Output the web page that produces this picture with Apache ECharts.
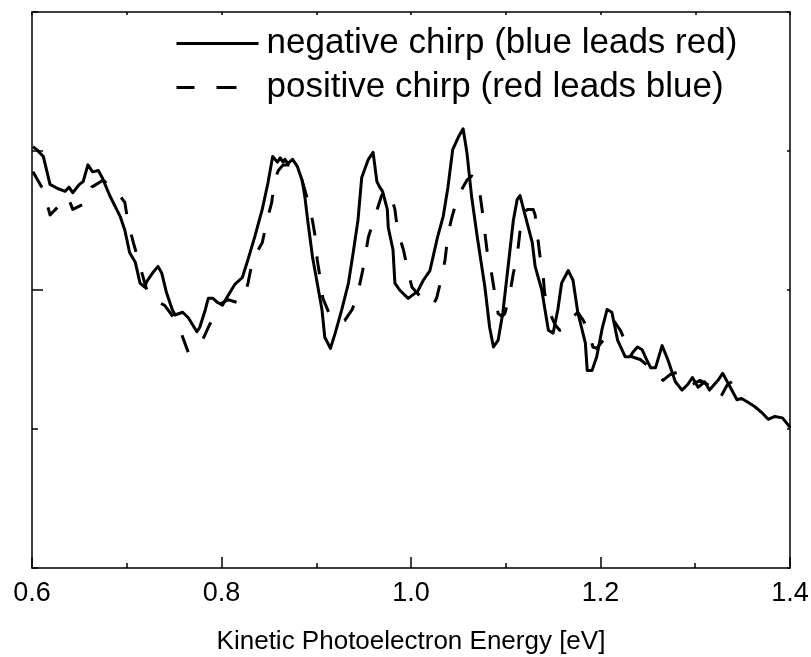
<!DOCTYPE html>
<html><head><meta charset="utf-8">
<script src="https://cdn.jsdelivr.net/npm/echarts@6/dist/echarts.min.js"></script>
<style>html,body{margin:0;padding:0;background:#fff}#c{width:811px;height:657px}</style>
</head><body><div id="c"></div><script>
const xTicks = [0.6, 0.8, 1.0, 1.2, 1.4];
const seriesNames = ['negative chirp (blue leads red)', 'positive chirp (red leads blue)'];
const axisTitle = 'Kinetic Photoelectron Energy [eV]';

const negX = [0.601,0.605,0.612,0.619,0.627,0.635,0.639,0.643,0.650,0.654,0.659,0.664,0.670,0.674,0.682,0.693,0.698,0.703,0.709,0.714,0.719,0.721,0.727,0.733,0.737,0.742,0.748,0.751,0.759,0.765,0.774,0.777,0.783,0.786,0.791,0.796,0.801,0.806,0.814,0.822,0.828,0.835,0.843,0.849,0.854,0.859,0.862,0.865,0.867,0.870,0.875,0.880,0.885,0.888,0.891,0.896,0.901,0.906,0.909,0.915,0.920,0.927,0.934,0.939,0.944,0.948,0.955,0.960,0.964,0.967,0.970,0.975,0.976,0.981,0.983,0.988,0.997,0.999,1.007,1.013,1.020,1.028,1.034,1.039,1.044,1.050,1.055,1.059,1.064,1.070,1.078,1.083,1.087,1.092,1.097,1.102,1.108,1.112,1.115,1.120,1.128,1.131,1.138,1.145,1.150,1.155,1.159,1.166,1.171,1.176,1.184,1.186,1.191,1.196,1.202,1.207,1.212,1.218,1.226,1.231,1.234,1.239,1.244,1.250,1.253,1.258,1.265,1.271,1.279,1.286,1.292,1.297,1.303,1.310,1.315,1.324,1.329,1.337,1.344,1.349,1.356,1.363,1.370,1.377,1.384,1.392,1.398,1.400];
const negY = [3.03,3.01,2.96,2.76,2.73,2.71,2.74,2.70,2.76,2.78,2.90,2.85,2.86,2.81,2.68,2.53,2.43,2.27,2.20,2.05,2.02,2.06,2.12,2.17,2.12,1.98,1.86,1.82,1.84,1.80,1.70,1.73,1.86,1.94,1.94,1.91,1.89,1.95,2.04,2.09,2.22,2.38,2.58,2.77,2.96,2.92,2.95,2.92,2.94,2.91,2.94,2.89,2.79,2.67,2.50,2.24,2.05,1.86,1.66,1.58,1.69,1.86,2.05,2.27,2.50,2.81,2.94,2.99,2.78,2.74,2.71,2.58,2.45,2.29,2.05,2.00,1.94,1.94,1.99,2.07,2.14,2.38,2.53,2.74,3.01,3.10,3.16,2.99,2.67,2.38,2.02,1.73,1.59,1.64,1.84,2.14,2.50,2.65,2.68,2.55,2.34,2.17,2.00,1.71,1.69,1.86,2.05,2.14,2.07,1.84,1.62,1.42,1.42,1.52,1.73,1.86,1.84,1.64,1.52,1.52,1.55,1.59,1.57,1.48,1.44,1.44,1.60,1.50,1.34,1.28,1.32,1.37,1.30,1.34,1.28,1.35,1.40,1.30,1.21,1.22,1.19,1.16,1.12,1.07,1.09,1.08,1.03,1.01];

const posX = [0.601,0.612,0.619,0.632,0.638,0.643,0.658,0.663,0.675,0.688,0.698,0.701,0.707,0.712,0.719,0.722,0.728,0.740,0.753,0.758,0.765,0.772,0.780,0.786,0.791,0.796,0.807,0.817,0.823,0.828,0.833,0.843,0.848,0.853,0.856,0.860,0.865,0.872,0.879,0.885,0.890,0.896,0.899,0.901,0.904,0.907,0.915,0.922,0.930,0.938,0.944,0.949,0.955,0.962,0.969,0.974,0.978,0.983,0.986,0.992,0.997,1.001,1.009,1.018,1.023,1.027,1.033,1.036,1.039,1.043,1.050,1.059,1.064,1.070,1.073,1.076,1.078,1.081,1.085,1.089,1.092,1.096,1.099,1.104,1.108,1.112,1.115,1.118,1.123,1.129,1.131,1.133,1.136,1.139,1.141,1.145,1.152,1.157,1.165,1.170,1.176,1.182,1.187,1.192,1.196,1.203,1.210,1.215,1.221,1.228,1.233,1.242,1.249,1.258,1.266,1.273,1.282,1.289,1.297,1.305,1.313,1.320,1.326,1.334,1.341,1.349,1.352];
const posY = [2.85,2.72,2.54,2.63,2.67,2.58,2.63,2.74,2.79,2.72,2.63,2.50,2.34,2.22,2.05,1.98,1.93,1.89,1.77,1.68,1.55,1.60,1.64,1.73,1.80,1.89,1.93,1.91,1.93,2.05,2.22,2.34,2.50,2.63,2.79,2.86,2.90,2.90,2.88,2.79,2.67,2.50,2.38,2.22,2.09,1.94,1.81,1.77,1.78,1.86,1.98,2.14,2.38,2.53,2.68,2.72,2.70,2.58,2.42,2.29,2.13,2.02,1.96,1.94,1.89,1.94,2.11,2.22,2.40,2.52,2.68,2.79,2.82,2.79,2.68,2.53,2.41,2.24,2.12,1.95,1.83,1.81,1.83,1.96,2.12,2.24,2.42,2.55,2.58,2.58,2.54,2.42,2.25,2.14,1.98,1.86,1.75,1.71,1.73,1.80,1.84,1.78,1.71,1.59,1.58,1.64,1.69,1.77,1.71,1.60,1.52,1.50,1.46,1.40,1.35,1.39,1.41,1.37,1.32,1.35,1.32,1.29,1.22,1.32,1.35,1.28,1.24];

const FONT = '"Liberation Sans", Arial, Helvetica, sans-serif';
const chart = echarts.init(document.getElementById('c'), null, {renderer: 'canvas'});
const black = '#000';
chart.setOption({
  animation: false,
  backgroundColor: '#fff',
  grid: {left: 32, right: 21, top: 12, bottom: 89, containLabel: false, outerBoundsMode: 'none'},
  legend: {
    orient: 'vertical', left: 175, top: 26, padding: 0, itemWidth: 82, itemHeight: 14, itemGap: 9,
    itemStyle: {opacity: 0},
    lineStyle: {width: 3, color: black},
    textStyle: {fontSize: 35, color: black, fontFamily: FONT, padding: [0, 0, 0, 3]},
    data: [
      {name: seriesNames[0], lineStyle: {type: 'solid', width: 3, color: black}},
      {name: seriesNames[1], lineStyle: {type: [18, 22, 20, 40], width: 3, color: black}}
    ]
  },
  xAxis: [
    {
      type: 'value', position: 'bottom', min: xTicks[0], max: xTicks[xTicks.length - 1], interval: 0.2,
      axisLine: {show: true, onZero: false, lineStyle: {color: black, width: 1.5}},
      axisTick: {show: true, inside: true, length: 11, lineStyle: {color: black, width: 1.5}},
      minorTick: {show: true, splitNumber: 2, length: 5, lineStyle: {color: black, width: 1.5}},
      splitLine: {show: false}, minorSplitLine: {show: false},
      axisLabel: {fontSize: 27, color: black, fontFamily: FONT, margin: 12, formatter: v => v.toFixed(1)},
      name: axisTitle, nameLocation: 'middle', nameGap: 61,
      nameTextStyle: {fontSize: 26, color: black, fontFamily: FONT}
    },
    {
      type: 'value', position: 'top', min: xTicks[0], max: xTicks[xTicks.length - 1], interval: 0.1,
      axisLine: {show: true, onZero: false, lineStyle: {color: black, width: 1.5}},
      axisTick: {show: true, inside: true, length: 3, lineStyle: {color: black, width: 1.5}},
      axisLabel: {show: false}, splitLine: {show: false}
    }
  ],
  yAxis: [
    {
      type: 'value', position: 'left', min: 0, max: 4, interval: 1,
      axisLine: {show: true, onZero: false, lineStyle: {color: black, width: 1.5}},
      axisTick: {show: true, inside: true, length: 6, lineStyle: {color: black, width: 1.5}},
      axisLabel: {show: false}, splitLine: {show: false}
    },
    {
      type: 'value', position: 'right', min: 0, max: 4, interval: 1,
      axisLine: {show: true, onZero: false, lineStyle: {color: black, width: 1.5}},
      axisTick: {show: true, inside: true, length: 3, lineStyle: {color: black, width: 1.5}},
      axisLabel: {show: false}, splitLine: {show: false}
    },
    {
      type: 'value', position: 'left', offset: 0, min: 0, max: 4, interval: 1,
      axisLine: {show: false, onZero: false},
      axisTick: {show: true, inside: true, length: 11, customValues: [2, 3], lineStyle: {color: black, width: 1.5}},
      axisLabel: {show: false}, splitLine: {show: false}
    }
  ],
  series: [
    {
      name: seriesNames[0], type: 'line', xAxisIndex: 0, yAxisIndex: 0, symbol: 'none',
      data: negX.map((x, i) => [x, negY[i]]),
      lineStyle: {color: black, width: 3, join: 'round'}, itemStyle: {color: black}, z: 3
    },
    {
      name: seriesNames[1], type: 'line', xAxisIndex: 0, yAxisIndex: 0, symbol: 'none',
      data: posX.map((x, i) => [x, posY[i]]),
      lineStyle: {color: black, width: 3, type: [18, 21], join: 'round'}, itemStyle: {color: black}, z: 2
    }
  ]
});
</script></body></html>
